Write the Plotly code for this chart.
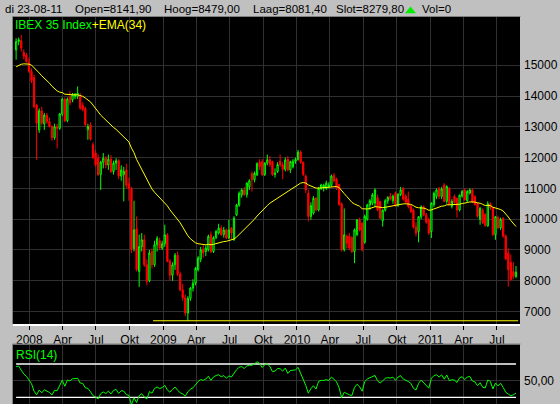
import pandas as pd
import plotly.graph_objects as go

# ---------------- data (weekly IBEX 35) ----------------
week_start = "2007-11-26"
n_weeks = 196

opens = [15500, 15770, 15800, 15420, 15330, 15100, 14800, 14600, 13700, 12900,
         13520, 13100, 13380, 13170, 13010, 12650, 13000, 12950, 13420, 13900,
         13200, 13980, 13880, 13990, 13990, 13985, 13700, 13600, 12910, 13060,
         12420, 12150, 11980, 11450, 11850, 11980, 11760, 11950, 11550, 11820,
         11900, 11400, 11450, 11600, 11150, 11000, 9050, 9690, 8300, 9110,
         9330, 8520, 8000, 8950, 8520, 9170, 9300, 9060, 9200, 9490,
         8630, 8180, 8520, 8830, 8220, 7700, 7450, 6950, 7430, 7760,
         7920, 8360, 8700, 9030, 8950, 9010, 9490, 8950, 9400, 9550,
         9710, 9500, 9650, 9390, 9710, 9330, 10140, 10460, 10790, 10950,
         10800, 11050, 11480, 11280, 11440, 11850, 11870, 11450, 11820, 11930,
         11870, 11450, 11550, 11880, 11760, 11620, 11950, 11600, 11700, 11880,
         11940, 12180, 11850, 11400, 10850, 10090, 10200, 10680, 10300, 11000,
         11010, 11000, 11060, 11100, 11420, 11300, 11120, 10500, 9010, 9440,
         9440, 9400, 8950, 9500, 9980, 9870, 9250, 10000, 10460, 10520,
         10520, 10700, 10570, 9950, 10290, 10600, 10750, 10600, 10850, 10450,
         10800, 11000, 10750, 10650, 10420, 10300, 9750, 9600, 10080, 10400,
         10140, 9980, 9600, 10470, 10740, 11000, 10740, 11110, 10580, 11000,
         10420, 10740, 10680, 10300, 10750, 10950, 10600, 10850, 10950, 10730,
         10500, 10000, 10300, 10150, 9780, 10500, 10360, 9500, 10050, 9720,
         10030, 9450, 8900, 8600, 8300, 8141.9]

highs = [15880, 15900, 15990, 15520, 15400, 15250, 14900, 14700, 13750, 13600,
         13650, 13450, 13450, 13300, 13050, 13100, 13100, 13450, 13950, 13950,
         13950, 14150, 14100, 14100, 14310, 14100, 13800, 13650, 13100, 13150,
         12500, 12250, 12100, 11900, 12150, 12050, 12100, 12080, 11900, 11980,
         11950, 11750, 11700, 11800, 11350, 11050, 10600, 10090, 9500, 9550,
         9500, 8700, 9000, 9050, 9300, 9450, 9400, 9300, 9820, 9550,
         8700, 8600, 8900, 8950, 8300, 7900, 7550, 7500, 7800, 8050,
         8450, 8800, 9100, 9150, 9150, 9500, 9600, 9450, 9650, 9850,
         9800, 9750, 9700, 9980, 9750, 10100, 10500, 10900, 11000, 11050,
         11200, 11300, 11550, 11550, 11850, 11950, 11950, 11850, 12100, 12050,
         11900, 11650, 11850, 12100, 11850, 12000, 12050, 11900, 11950, 12000,
         12250, 12230, 11870, 11450, 10950, 10550, 10750, 10720, 11050, 11150,
         11150, 11250, 11200, 11450, 11500, 11350, 11150, 10550, 10350, 9500,
         9550, 9450, 9700, 10000, 10050, 9900, 10150, 10500, 10650, 10850,
         11000, 10800, 10600, 10320, 10650, 10750, 10850, 10800, 10900, 10850,
         11050, 11050, 10800, 10900, 10480, 10350, 9900, 10100, 10450, 10450,
         10200, 10050, 10550, 10900, 11000, 11050, 11050, 11170, 11100, 11050,
         10650, 10800, 10700, 10800, 10950, 11000, 10950, 11000, 11000, 10780,
         10550, 10400, 10350, 10200, 10580, 10550, 10400, 10100, 10120, 10050,
         10060, 9500, 9050, 8850, 8600, 8479]

lows = [15180, 15650, 15440, 15200, 15080, 14750, 14420, 13600, 11930, 12800,
        13050, 12900, 13100, 12980, 12550, 12580, 12300, 12900, 13350, 13150,
        13150, 13700, 13800, 13900, 13900, 13550, 13500, 13000, 12580, 12550,
        11950, 11700, 11400, 10950, 11650, 11650, 11600, 11500, 11450, 11600,
        11300, 11250, 10580, 11000, 10600, 8900, 8950, 8300, 7800, 8950,
        8450, 7850, 7950, 8400, 8450, 8950, 9000, 9000, 9100, 8600,
        8000, 8000, 8350, 8150, 7650, 7350, 6850, 6700, 7350, 7650,
        7850, 8300, 8600, 8750, 8800, 8950, 8900, 8900, 9350, 9500,
        9450, 9400, 9350, 9350, 9350, 9300, 10100, 10400, 10700, 10750,
        10700, 10950, 10900, 11200, 11400, 11600, 11400, 11400, 11750, 11700,
        11400, 11350, 11500, 11700, 11300, 11550, 11550, 11500, 11650, 11800,
        11900, 11800, 11400, 10850, 9930, 9980, 10150, 10250, 10250, 10950,
        10900, 10950, 11000, 11050, 11200, 10950, 10450, 8950, 8950, 9050,
        9000, 8900, 8570, 9450, 9600, 8950, 9200, 9950, 10300, 10450,
        10400, 10250, 10000, 9760, 10250, 10500, 10600, 10500, 10400, 10400,
        10750, 10600, 10500, 10350, 10200, 9700, 9440, 9250, 10000, 10100,
        9850, 9490, 9390, 10400, 10650, 10650, 10650, 10550, 10500, 10450,
        10350, 10500, 10050, 10250, 10700, 10600, 10550, 10800, 10520, 10450,
        10050, 9820, 9850, 9750, 9760, 10300, 9450, 9330, 9680, 9650,
        9400, 8680, 7810, 8000, 8050, 8081.4]

closes = [15770, 15830, 15560, 15290, 15120, 14800, 14500, 13660, 13120, 13520,
          13120, 13380, 13170, 13010, 12640, 13000, 12950, 13420, 13900, 13200,
          13900, 13780, 14040, 14060, 14090, 13610, 13560, 13070, 13010, 12600,
          12000, 11770, 11450, 11850, 11980, 11760, 11950, 11550, 11820, 11900,
          11400, 11600, 11550, 11100, 11000, 9020, 9650, 8360, 9110, 9330,
          8520, 7980, 8900, 8520, 9170, 9380, 9060, 9200, 9490, 8630,
          8180, 8520, 8830, 8220, 7700, 7450, 6950, 7430, 7760, 7920,
          8400, 8735, 9000, 8900, 9060, 9440, 8950, 9400, 9600, 9710,
          9500, 9650, 9390, 9650, 9550, 10030, 10460, 10840, 10950, 10800,
          11170, 11250, 11280, 11490, 11800, 11700, 11450, 11820, 11930, 11780,
          11450, 11500, 11770, 11760, 11620, 11920, 11600, 11870, 11880, 11940,
          12180, 11850, 11450, 10950, 10090, 10440, 10680, 10300, 11000, 11110,
          11100, 11170, 11110, 11400, 11240, 11010, 10470, 9010, 9490, 9220,
          9060, 8950, 9650, 9980, 9650, 9005, 10090, 10460, 10600, 10790,
          10950, 10310, 10040, 10290, 10600, 10700, 10650, 10750, 10450, 10800,
          10950, 10650, 10550, 10420, 10250, 9750, 9550, 10080, 10400, 10140,
          9900, 9550, 10520, 10840, 10950, 10740, 10980, 10580, 11060, 10470,
          10580, 10540, 10300, 10780, 10900, 10630, 10900, 10950, 10550, 10470,
          10100, 10350, 9880, 9800, 10500, 10360, 9500, 10080, 9720, 10000,
          9450, 8700, 8360, 8040, 8140, 8279.8]

ema_period = 34
ema_seed = 14900          # EMA level at the left edge
rsi_period = 14
rsi_seed_gain = 170
rsi_seed_loss = 100
rsi_prev_close = 15350

support_level = 6700
support_span = ["2008-12-04", "2011-08-28"]

tick_dates = ["2008-01-01", "2008-04-01", "2008-07-01", "2008-10-01",
              "2009-01-01", "2009-04-01", "2009-07-01", "2009-10-01",
              "2010-01-01", "2010-04-01", "2010-07-01", "2010-10-01",
              "2011-01-01", "2011-04-01", "2011-07-01"]
tick_labels = ["2008", "Apr", "Jul", "Okt", "2009", "Apr", "Jul", "Okt",
               "2010", "Apr", "Jul", "Okt", "2011", "Apr", "Jul"]
price_ticks = [7000, 8000, 9000, 10000, 11000, 12000, 13000, 14000, 15000]
price_tick_labels = ["7000", "8000", "9000", "10000", "11000", "12000",
                     "13000", "14000", "15000"]
rsi_levels = [70, 30]
rsi_ticks = [50]
rsi_tick_labels = ["50,00"]

header_items = ["di 23-08-11", "Open=8141,90", "Hoog=8479,00", "Laag=8081,40",
                "Slot=8279,80", "Vol=0"]

# ---------------- indicators ----------------
dates = pd.date_range(week_start, periods=n_weeks, freq="7D")

alpha = 2.0 / (ema_period + 1)
ema = []
e = ema_seed
for c in closes:
    e = e + alpha * (c - e)
    ema.append(e)

rsi = []
ag, al, prev = rsi_seed_gain, rsi_seed_loss, rsi_prev_close
for c in closes:
    ch = c - prev
    ag = (ag * (rsi_period - 1) + max(ch, 0)) / rsi_period
    al = (al * (rsi_period - 1) + max(-ch, 0)) / rsi_period
    rsi.append(100 - 100 / (1 + ag / al))
    prev = c

# ---------------- layout helpers (pixels -> paper) ----------------
W, H = 560, 404
L, R, T, B = 13, 520, 17, 404
def px(x):
    return (x - L) / (R - L)
def py(y):
    return (B - y) / (B - T)

FONT = "Liberation Sans, Arial, sans-serif"
GRID = "#303030"

fig = go.Figure()
fig.add_trace(go.Candlestick(
    x=dates, open=opens, high=highs, low=lows, close=closes,
    increasing=dict(line=dict(color="#00ff00", width=1), fillcolor="#000000"),
    decreasing=dict(line=dict(color="#ff0000", width=1), fillcolor="#ff0000"),
    whiskerwidth=0, showlegend=False, xaxis="x", yaxis="y"))
fig.add_trace(go.Scatter(x=dates, y=ema, mode="lines",
                         line=dict(color="#ffff00", width=1),
                         showlegend=False, xaxis="x", yaxis="y"))
fig.add_trace(go.Scatter(x=support_span, y=[support_level, support_level],
                         mode="lines", line=dict(color="#ffff00", width=1.2),
                         showlegend=False, xaxis="x", yaxis="y"))
for lvl in rsi_levels:
    fig.add_trace(go.Scatter(x=[dates[0], dates[-1]], y=[lvl, lvl], mode="lines",
                             line=dict(color="#ffffff", width=1.3),
                             showlegend=False, xaxis="x2", yaxis="y2"))
fig.add_trace(go.Scatter(x=dates, y=rsi, mode="lines",
                         line=dict(color="#00ff00", width=1),
                         showlegend=False, xaxis="x2", yaxis="y2"))

x_range = ["2007-11-17 12:00", "2011-09-02"]
tickfont = dict(family=FONT, size=12, color="#000000")

fig.update_layout(
    width=W, height=H,
    margin=dict(l=L, r=W - R, t=T, b=H - B, pad=0),
    paper_bgcolor="#c0c0c0", plot_bgcolor="#000000",
    showlegend=False,
    xaxis=dict(domain=[0, 1], anchor="y", type="date", range=x_range,
               tickmode="array", tickvals=tick_dates, ticktext=tick_labels,
               ticks="outside", ticklen=4, tickcolor="#000000", tickwidth=1,
               showline=True, linecolor="#ffffff", linewidth=2,
               showgrid=True, gridcolor=GRID, gridwidth=1,
               tickfont=tickfont, rangeslider=dict(visible=False), zeroline=False),
    yaxis=dict(domain=[py(324), 1], anchor="x", range=[6595, 16568], side="right",
               tickmode="array", tickvals=price_ticks, ticktext=price_tick_labels,
               ticks="", showgrid=True, gridcolor=GRID, gridwidth=1, zeroline=False,
               showline=False, tickfont=tickfont, ticklabelstandoff=3),
    xaxis2=dict(domain=[0, 1], anchor="y2", type="date", range=x_range,
                matches="x", tickmode="array", tickvals=tick_dates,
                showticklabels=False, ticks="", showgrid=True, gridcolor=GRID,
                showline=False, zeroline=False),
    yaxis2=dict(domain=[0, py(344.5)], anchor="x2", range=[21.95, 93.4], side="right",
                tickmode="array", tickvals=rsi_ticks, ticktext=rsi_tick_labels,
                ticks="", showgrid=True, gridcolor=GRID, zeroline=False,
                showline=False, tickfont=tickfont, ticklabelstandoff=3),
)

# header texts
header_x = [3.6, 74.3, 162.5, 251.8, 334.5, 420.7]
for txt, xp in zip(header_items, header_x):
    fig.add_annotation(x=px(xp), y=py(8.5), xref="paper", yref="paper", text=txt,
                       showarrow=False, xanchor="left", yanchor="middle",
                       font=dict(family=FONT, size=11.5, color="#000000"), borderpad=0)
# green "up" triangle in the header
fig.add_shape(type="path", xref="paper", yref="paper",
              path=f"M {px(405)},{py(13.3)} L {px(416)},{py(13.3)} L {px(410.5)},{py(6.5)} Z",
              fillcolor="#00ee00", line=dict(color="#00ee00", width=0))

fig.add_annotation(x=px(13.5), y=py(25), xref="paper", yref="paper",
                   text="<span style='color:#00ff00'>IBEX 35 Index</span>"
                        "<span style='color:#ffff00'>+EMA(34)</span>",
                   showarrow=False, xanchor="left", yanchor="middle",
                   font=dict(family=FONT, size=12), borderpad=0)
fig.add_annotation(x=px(15), y=py(354.7), xref="paper", yref="paper", text="RSI(14)",
                   showarrow=False, xanchor="left", yanchor="middle",
                   font=dict(family=FONT, size=12, color="#00ff00"), borderpad=0)

# panel borders (sunken look)
def vline(xpix, y0, y1, color):
    fig.add_shape(type="line", xref="paper", yref="paper", x0=px(xpix), x1=px(xpix),
                  y0=py(y0), y1=py(y1), line=dict(color=color, width=1))
def hline(ypix, x0, x1, color):
    fig.add_shape(type="line", xref="paper", yref="paper", x0=px(x0), x1=px(x1),
                  y0=py(ypix), y1=py(ypix), line=dict(color=color, width=1))

vline(12.5, 16.5, 324, "#808080")
hline(16.5, 12.5, 520.5, "#808080")
vline(12.5, 344, 404, "#808080")
hline(344, 12.5, 520.5, "#808080")

# remove the browser's default 8px page margin so the figure sits at (0, 0)
fig.write_html("out.html",
               config={"displayModeBar": False},
               post_script="document.body.style.margin='0';"
                           "document.body.style.overflow='hidden';"
                           "document.body.style.background='#c0c0c0';")
